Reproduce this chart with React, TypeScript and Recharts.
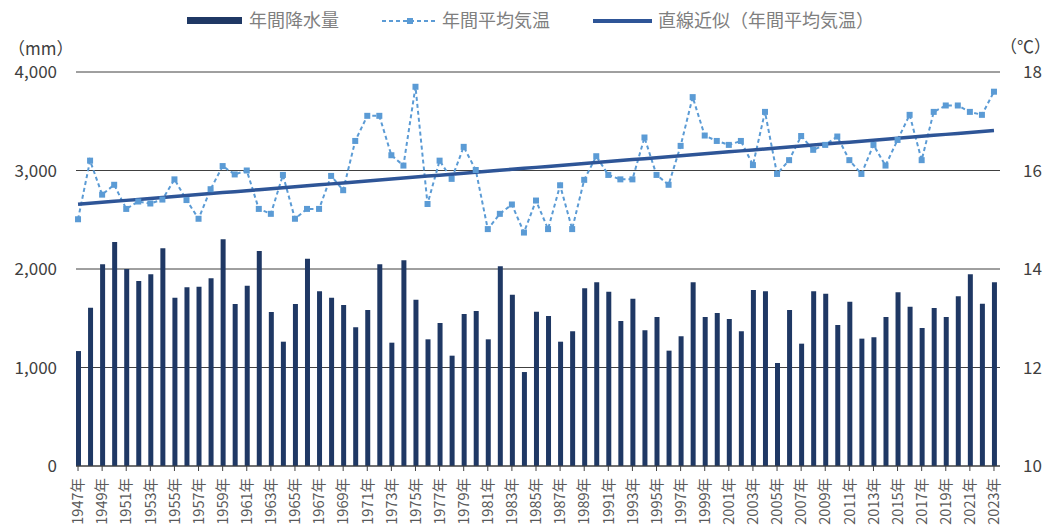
import * as React from 'react';
import {
  ComposedChart,
  Bar,
  Line,
  XAxis,
  YAxis,
  CartesianGrid
} from 'recharts';

const FONT = '"Noto Sans CJK JP", "Noto Sans", sans-serif';

// categories: 1947年 .. 2023年
const years: string[] = Array.from({ length: 77 }, (_, i) => String(1947 + i));

// 年間降水量 (mm)
const precipitation: number[] = [
  1167, 1607, 2048, 2274, 2000, 1878, 1946, 2210, 1709, 1814,
  1821, 1905, 2301, 1645, 1831, 2183, 1563, 1262, 1645, 2105,
  1773, 1709, 1635, 1408, 1584, 2048, 1252, 2088, 1689, 1286,
  1452, 1120, 1543, 1574, 1286, 2027, 1739, 954, 1567, 1523,
  1262, 1367, 1804, 1865, 1770, 1472, 1699, 1378, 1513, 1171,
  1317, 1865, 1513, 1553, 1492, 1367, 1787, 1773, 1046, 1584,
  1242, 1773, 1749, 1431, 1668, 1293, 1307, 1513, 1763, 1617,
  1401, 1604, 1513, 1723, 1946, 1648, 1865
];

// 年間平均気温 (℃)
const temperature: number[] = [
  15.01, 16.2, 15.51, 15.71, 15.22, 15.37, 15.33, 15.41, 15.82, 15.4,
  15.02, 15.62, 16.09, 15.92, 16.0, 15.22, 15.12, 15.91, 15.02, 15.22,
  15.22, 15.89, 15.6, 16.6, 17.11, 17.11, 16.31, 16.1, 17.7, 15.32,
  16.2, 15.83, 16.48, 16.01, 14.81, 15.12, 15.31, 14.74, 15.39, 14.81,
  15.7, 14.81, 15.81, 16.29, 15.91, 15.82, 15.82, 16.67, 15.91, 15.71,
  16.5, 17.49, 16.71, 16.6, 16.52, 16.6, 16.11, 17.19, 15.93, 16.21,
  16.7, 16.42, 16.52, 16.69, 16.21, 15.93, 16.52, 16.1, 16.62, 17.13,
  16.21, 17.19, 17.32, 17.32, 17.19, 17.13, 17.6
];

const leftTicks = [0, 1000, 2000, 3000, 4000];
const rightTicks = [10, 12, 14, 16, 18];

const BAR_COLOR = '#1F3864';
const TEMP_COLOR = '#5B9BD5';
const TREND_COLOR = '#2E5597';

// least squares fit of temperature over the year index (直線近似)
function linearFit(values: number[]): number[] {
  const n = values.length;
  let sx = 0, sy = 0, sxy = 0, sxx = 0;
  values.forEach((v, i) => {
    sx += i;
    sy += v;
    sxy += i * v;
    sxx += i * i;
  });
  const slope = (n * sxy - sx * sy) / (n * sxx - sx * sx);
  const intercept = (sy - slope * sx) / n;
  return values.map((_, i) => intercept + slope * i);
}

const trend = linearFit(temperature);

const data = years.map((year, i) => ({
  year,
  precipitation: precipitation[i],
  temperature: temperature[i],
  trend: trend[i]
}));

const YearTick = ({ x, y, payload }: any) => (
  <g transform={`translate(${x},${y})`}>
    <text
      transform="rotate(-90)"
      x={-5}
      y={0}
      dy="0.36em"
      textAnchor="end"
      fontSize={14.5}
      fill="#595959"
      fontFamily={FONT}
    >
      {payload.value}年
    </text>
  </g>
);

const SquareDot = (props: any) => {
  const { cx, cy, index } = props;
  if (cx == null || cy == null) return <g key={`d-${index}`} />;
  return (
    <rect
      key={`d-${index}`}
      x={cx - 3}
      y={cy - 3}
      width={6}
      height={6}
      fill={TEMP_COLOR}
    />
  );
};

const legendText = { fontSize: 18, fill: '#7F7F7F', fontFamily: FONT };

const ChartLegend = () => (
  <svg width={1050} height={44} style={{ position: 'absolute', left: 0, top: 0 }}>
    <rect x={187} y={17} width={55} height={7} fill={BAR_COLOR} />
    <text x={249} y={21} dy="0.36em" {...legendText}>年間降水量</text>
    <line x1={382} y1={21} x2={437} y2={21} stroke={TEMP_COLOR} strokeWidth={2} strokeDasharray="4 3" />
    <rect x={407} y={18} width={6} height={6} fill={TEMP_COLOR} />
    <text x={442} y={21} dy="0.36em" {...legendText}>年間平均気温</text>
    <line x1={593} y1={21} x2={652} y2={21} stroke={TREND_COLOR} strokeWidth={4} />
    <text x={658} y={21} dy="0.36em" {...legendText}>直線近似（年間平均気温）</text>
  </svg>
);

const App: React.FC = () => {
  return (
    <div style={{ position: 'absolute', left: 0, top: 0, width: 1050, height: 531, background: '#fff', fontFamily: FONT }}>
      <ComposedChart
        width={1050}
        height={531}
        data={data}
        margin={{ top: 72, right: 0, bottom: 0, left: 0 }}
      >
        <CartesianGrid yAxisId="left" vertical={false} stroke="#404040" strokeWidth={1} />
        <XAxis
          dataKey="year"
          height={65}
          interval={1}
          padding={{ left: -4, right: 0 }}
          tick={<YearTick />}
          tickSize={5}
          tickLine={{ stroke: '#404040' }}
          axisLine={{ stroke: '#404040' }}
        />
        <YAxis
          yAxisId="left"
          width={76}
          domain={[0, 4000]}
          ticks={leftTicks}
          axisLine={false}
          tickLine={false}
          tickSize={0}
          tickMargin={19}
          tick={{ fontSize: 17, fill: '#404040', fontFamily: FONT }}
          tickFormatter={(v: number) => v.toLocaleString('en-US')}
        />
        <YAxis
          yAxisId="right"
          orientation="right"
          width={50}
          domain={[10, 18]}
          ticks={rightTicks}
          axisLine={false}
          tickLine={false}
          tickSize={0}
          tickMargin={23}
          tick={{ fontSize: 17, fill: '#404040', fontFamily: FONT }}
        />

        {/* 年間降水量 */}
        <Bar
          yAxisId="left"
          dataKey="precipitation"
          fill={BAR_COLOR}
          barSize={5}
          isAnimationActive={false}
        />

        {/* 年間平均気温 */}
        <Line
          yAxisId="right"
          type="linear"
          dataKey="temperature"
          stroke={TEMP_COLOR}
          strokeWidth={2}
          strokeDasharray="4 3"
          dot={SquareDot}
          activeDot={false}
          isAnimationActive={false}
        />

        {/* 直線近似 */}
        <Line
          yAxisId="right"
          type="linear"
          dataKey="trend"
          stroke={TREND_COLOR}
          strokeWidth={3.5}
          dot={false}
          activeDot={false}
          isAnimationActive={false}
        />
      </ComposedChart>

      <ChartLegend />
      <div style={{ position: 'absolute', left: 8, top: 35, fontSize: 17, color: '#404040' }}>（mm）</div>
      <div style={{ position: 'absolute', left: 1000, top: 33, fontSize: 17, color: '#404040' }}>（℃）</div>
    </div>
  );
};

export default App;
